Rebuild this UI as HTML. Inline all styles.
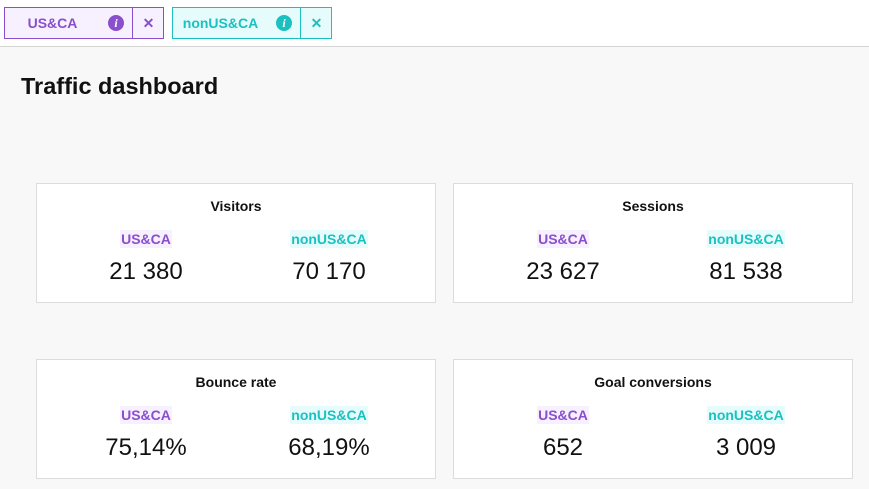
<!DOCTYPE html>
<html><head><style>
body{margin:0;width:869px;height:489px;background:#f8f8f8;font-family:"Liberation Sans",Arial,sans-serif;position:relative;overflow:hidden}
.top{position:absolute;left:0;top:0;width:869px;height:46px;background:#fff;border-bottom:1px solid #d4d4d4}
.chip{position:absolute;top:7px;height:30px;width:158px;border:1px solid;box-sizing:content-box}
.chip .t{position:absolute;left:0;width:128px;top:0;line-height:30px;font-weight:bold;font-size:14px;text-align:center;padding-right:33px;box-sizing:border-box}
.chip .i{position:absolute;left:103px;top:7px;width:16px;height:16px;border-radius:50%;color:#fff;font:bold italic 12px "Liberation Serif",serif;text-align:center;line-height:16px}
.chip .x{position:absolute;left:127px;top:0;width:31px;height:30px;border-left:1px solid;line-height:30px;text-align:center;font-weight:bold;font-size:14px}
.p{left:4px;border-color:#8a4fcc;background:#f7f0ff;color:#8a4fcc}
.p .i{background:#8a4fcc}.p .x{border-color:#8a4fcc}
.c{left:172px;border-color:#1cc0c0;background:#e6fcfc;color:#1cc0c0}
.c .i{background:#1cc0c0}.c .x{border-color:#1cc0c0}
h1{position:absolute;left:21px;top:73px;margin:0;font-size:23.5px;font-weight:bold;color:#111}
.card{position:absolute;width:398px;height:118px;background:#fff;border:1px solid #dcdcdc}
.card .h{position:absolute;top:14px;width:100%;text-align:center;font-weight:bold;font-size:14px;color:#111}
.col{position:absolute;top:46px;width:200px;text-align:center}
.lab{display:inline-block;font-weight:bold;font-size:14px;padding:0 1px;line-height:18px}
.lp{color:#8a4fcc;background:#f7f0ff}.lc{color:#1cc0c0;background:#e6fcfc}
.num{font-size:24px;color:#111;margin-top:9px}
</style></head><body>
<div class="top">
<div class="chip p"><div class="t">US&amp;CA</div><div class="i">i</div><div class="x">✕</div></div>
<div class="chip c"><div class="t">nonUS&amp;CA</div><div class="i">i</div><div class="x">✕</div></div>
</div>
<h1>Traffic dashboard</h1>
<div class="card" style="left:36px;top:183px"><div class="h">Visitors</div>
<div class="col" style="left:9px"><span class="lab lp">US&amp;CA</span><div class="num">21 380</div></div>
<div class="col" style="left:192px"><span class="lab lc">nonUS&amp;CA</span><div class="num">70 170</div></div></div>
<div class="card" style="left:453px;top:183px"><div class="h">Sessions</div>
<div class="col" style="left:9px"><span class="lab lp">US&amp;CA</span><div class="num">23 627</div></div>
<div class="col" style="left:192px"><span class="lab lc">nonUS&amp;CA</span><div class="num">81 538</div></div></div>
<div class="card" style="left:36px;top:359px"><div class="h">Bounce rate</div>
<div class="col" style="left:9px"><span class="lab lp">US&amp;CA</span><div class="num">75,14%</div></div>
<div class="col" style="left:192px"><span class="lab lc">nonUS&amp;CA</span><div class="num">68,19%</div></div></div>
<div class="card" style="left:453px;top:359px"><div class="h">Goal conversions</div>
<div class="col" style="left:9px"><span class="lab lp">US&amp;CA</span><div class="num">652</div></div>
<div class="col" style="left:192px"><span class="lab lc">nonUS&amp;CA</span><div class="num">3 009</div></div></div>
</body></html>
